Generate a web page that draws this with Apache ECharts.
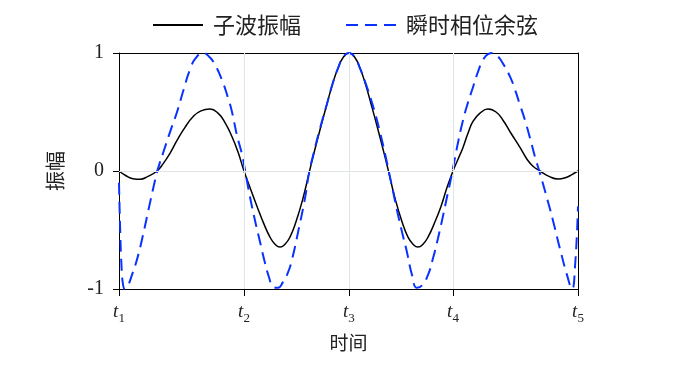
<!DOCTYPE html>
<html>
<head>
<meta charset="utf-8">
<script src="https://cdn.jsdelivr.net/npm/echarts@6/dist/echarts.min.js"></script>
<style>html,body{margin:0;padding:0;background:#fff;}#c{width:700px;height:367px;}</style>
</head>
<body>
<div id="c"></div>
<script>
// time positions of the labelled instants t1..t5 (arbitrary time units, 0..100)
var tickPositions = [0, 27.23, 50.1, 72.77, 100];
var tickNames = ['1', '2', '3', '4', '5'];
var yTicks = [-1, 0, 1];

// 子波振幅 (wavelet amplitude): [time, value]
var waveletAmp = [
  [0,0],[1.53,-0.04],[3.05,-0.065],[4.58,-0.07],[6.32,-0.045],[8.28,0],[9.59,0.06],[11.11,0.15],
  [12.64,0.26],[14.38,0.37],[16.12,0.46],[17.86,0.51],[19.83,0.525],[21.57,0.49],[23.09,0.41],
  [24.62,0.29],[25.93,0.16],[27.23,0],[28.54,-0.14],[30.07,-0.3],[31.59,-0.45],[32.9,-0.56],
  [33.99,-0.62],[35.08,-0.645],[36.17,-0.62],[37.25,-0.56],[38.56,-0.43],[40.09,-0.23],
  [41.39,-0.02],[42.27,0.12],[43.79,0.35],[45.32,0.57],[46.62,0.75],[47.71,0.87],[48.8,0.96],
  [50.11,1],[51.42,0.96],[52.51,0.87],[53.59,0.75],[54.9,0.57],[56.43,0.35],[57.95,0.12],
  [58.82,-0.02],[60.13,-0.23],[61.66,-0.43],[62.96,-0.56],[64.05,-0.62],[65.14,-0.645],
  [66.23,-0.62],[67.32,-0.56],[68.63,-0.45],[70.15,-0.3],[71.46,-0.14],[72.77,0],[73.86,0.1],
  [74.95,0.2],[76.03,0.32],[77.12,0.42],[78.65,0.49],[80.39,0.525],[82.14,0.5],[83.66,0.43],
  [85.4,0.32],[87.36,0.2],[88.89,0.1],[90.2,0.04],[91.72,0],[93.68,-0.045],[95.64,-0.068],
  [97.39,-0.055],[98.69,-0.03],[100,0]
];

// 瞬时相位余弦 (cosine of instantaneous phase): [time, value]
var phaseCos = [
  [0,-0.1],[0.22,-0.45],[0.54,-0.8],[0.87,-0.96],[1.31,-1],[1.96,-0.97],[2.83,-0.88],[3.92,-0.75],
  [5.01,-0.58],[6.75,-0.27],[7.84,-0.08],[8.5,0.02],[9.59,0.15],[11.11,0.33],[12.64,0.5],
  [14.16,0.7],[15.47,0.86],[16.78,0.96],[18.3,1],[19.61,0.97],[20.92,0.9],[22.44,0.77],
  [23.75,0.62],[24.62,0.5],[25.71,0.3],[26.8,0.14],[27.67,-0.04],[28.54,-0.22],[29.63,-0.42],
  [30.72,-0.6],[31.81,-0.78],[32.68,-0.9],[33.55,-0.98],[34.64,-0.99],[35.73,-0.94],[36.82,-0.86],
  [37.69,-0.75],[39.0,-0.52],[40.52,-0.23],[41.39,-0.02],[42.27,0.13],[43.79,0.36],[45.32,0.57],
  [46.62,0.75],[47.71,0.87],[48.8,0.96],[50.11,1],[51.42,0.96],[52.51,0.87],[53.59,0.76],
  [55.34,0.55],[56.86,0.33],[58.39,0.07],[58.82,-0.01],[59.69,-0.17],[60.78,-0.37],[61.87,-0.55],
  [62.75,-0.69],[63.83,-0.88],[64.92,-0.99],[66.01,-0.97],[67.32,-0.88],[68.41,-0.74],[69.5,-0.57],
  [70.59,-0.38],[71.46,-0.22],[72.55,-0.02],[73.64,0.2],[74.95,0.43],[76.03,0.58],[77.12,0.71],
  [78.21,0.84],[79.3,0.94],[80.39,0.99],[81.48,1],[82.57,0.97],[83.66,0.91],[85.19,0.8],
  [86.27,0.69],[87.36,0.56],[88.45,0.43],[89.54,0.28],[90.63,0.12],[91.72,-0.02],[92.16,-0.08],
  [93.46,-0.26],[94.55,-0.42],[96.08,-0.66],[97.6,-0.88],[98.69,-1],[99.35,-0.81],[100,-0.3]
];

var serif = '"Liberation Serif","DejaVu Serif",serif';
var cjk = '"Noto Sans CJK SC","Noto Sans",sans-serif';
var gridColor = '#dfe5e6';

var chart = echarts.init(document.getElementById('c'), null, {renderer: 'canvas'});
chart.setOption({
  animation: false,
  backgroundColor: '#ffffff',
  legend: {
    top: 14,
    left: 152,
    padding: 0,
    itemWidth: 50,
    itemHeight: 14,
    itemGap: 44,
    itemStyle: {opacity: 0},
    textStyle: {fontFamily: cjk, fontSize: 22, color: '#222', padding: [0, 0, 0, 5]},
    data: ['子波振幅', '瞬时相位余弦']
  },
  grid: {left: 119, right: 122, top: 53, bottom: 78, containLabel: false},
  xAxis: [{
    type: 'value', position: 'bottom', min: 0, max: 100,
    name: '时间', nameLocation: 'middle', nameGap: 44,
    nameTextStyle: {fontFamily: cjk, fontSize: 19, color: '#222'},
    axisLine: {show: true, onZero: false, lineStyle: {color: '#000', width: 1}},
    axisTick: {show: true, inside: false, length: 7, customValues: tickPositions, lineStyle: {color: '#000'}},
    axisLabel: {
      show: true, margin: 10, customValues: tickPositions,
      formatter: function (v) {
        for (var i = 0; i < tickPositions.length; i++) {
          if (Math.abs(tickPositions[i] - v) < 1e-6) return '{i|t}{s|' + tickNames[i] + '}';
        }
        return '';
      },
      rich: {
        i: {fontFamily: serif, fontStyle: 'italic', fontSize: 19, color: '#222', lineHeight: 22, verticalAlign: 'bottom'},
        s: {fontFamily: serif, fontSize: 13, color: '#222', lineHeight: 22, verticalAlign: 'bottom', padding: [0, 0, -4, 0]}
      }
    },
    splitLine: {show: false}
  }, {
    type: 'value', position: 'top', min: 0, max: 100,
    axisLine: {show: true, onZero: false, lineStyle: {color: '#000', width: 1}},
    axisTick: {show: true, inside: true, length: 5, customValues: tickPositions.slice(1, 4), lineStyle: {color: '#000'}},
    axisLabel: {show: false},
    splitLine: {show: false}
  }],
  yAxis: [{
    type: 'value', position: 'left', min: -1, max: 1, interval: 1,
    name: '振幅', nameLocation: 'middle', nameGap: 54, nameRotate: 90,
    nameTextStyle: {fontFamily: cjk, fontSize: 20, color: '#222'},
    axisLine: {show: true, onZero: false, lineStyle: {color: '#000', width: 1}},
    axisTick: {show: true, inside: false, length: 6, lineStyle: {color: '#000'}},
    axisLabel: {show: true, margin: 15, fontFamily: serif, fontSize: 20, color: '#222',
      customValues: yTicks},
    splitLine: {show: false}
  }, {
    type: 'value', position: 'right', min: -1, max: 1, interval: 1,
    axisLine: {show: true, onZero: false, lineStyle: {color: '#000', width: 1}},
    axisTick: {show: false}, axisLabel: {show: false}, splitLine: {show: false}
  }],
  series: [{
    name: 'grid', type: 'line', data: [], silent: true, z: 1,
    markLine: {
      silent: true, symbol: 'none', label: {show: false}, animation: false,
      lineStyle: {color: gridColor, width: 1, type: 'solid'},
      data: [{xAxis: tickPositions[1]}, {xAxis: tickPositions[2]}, {xAxis: tickPositions[3]}, {yAxis: 0}]
    }
  }, {
    name: '子波振幅', type: 'line', data: waveletAmp, showSymbol: false, symbol: 'none',
    smooth: 0.5, z: 3,
    lineStyle: {color: '#000', width: 1.5}, itemStyle: {color: '#000'}
  }, {
    name: '瞬时相位余弦', type: 'line', data: phaseCos, showSymbol: false, symbol: 'none',
    smooth: 0.5, z: 4,
    lineStyle: {color: '#0a32ff', width: 2, type: [12, 7]}, itemStyle: {color: '#0a32ff'}
  }]
});
</script>
</body>
</html>
